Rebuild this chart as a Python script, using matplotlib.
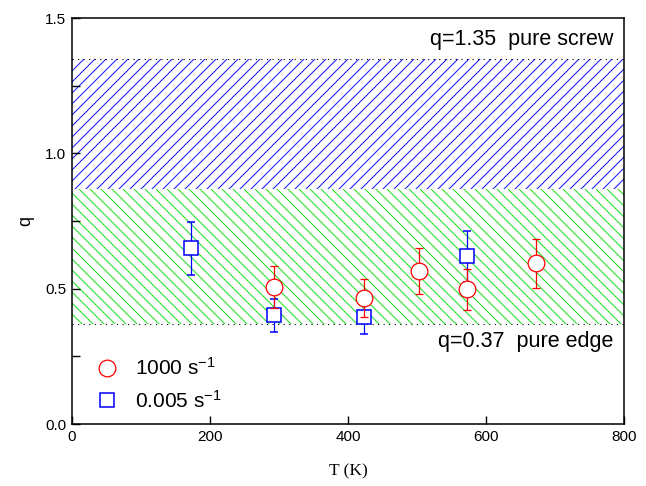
import matplotlib
matplotlib.use("Agg")
import matplotlib.pyplot as plt
from matplotlib.ticker import MultipleLocator, FormatStrFormatter
from matplotlib.lines import Line2D

DPI = 132
f = 100.0 / DPI  # sizes below are expressed as "points at 100 dpi"

# Data
T_fast = [293, 423, 503, 573, 673]
q_fast = [0.507, 0.467, 0.565, 0.497, 0.594]
e_fast = [0.078, 0.070, 0.085, 0.075, 0.090]

T_slow = [173, 293, 423, 573]
q_slow = [0.649, 0.401, 0.394, 0.619]
e_slow = [0.098, 0.060, 0.060, 0.093]

q_screw = 1.35
q_mid = 0.868
q_edge = 0.37

labels = ['1000 s$^{-1}$', '0.005 s$^{-1}$']

plt.rcParams['font.family'] = ['Liberation Sans', 'DejaVu Sans']
plt.rcParams['mathtext.default'] = 'regular'
plt.rcParams['hatch.linewidth'] = 0.75 * f

fig = plt.figure(figsize=(646 / DPI, 486 / DPI), dpi=DPI)
ax = fig.add_axes([72 / 646, 1 - 424 / 486, (624 - 72) / 646, (424 - 18) / 486])

ax.fill_between([0, 800], q_mid, q_screw, facecolor='none', edgecolor='#1a1aff',
                hatch='////', linewidth=0, zorder=1)
ax.fill_between([0, 800], q_edge, q_mid, facecolor='none', edgecolor='#22dd22',
                hatch='\\\\\\\\', linewidth=0, zorder=1)
ax.axhline(q_screw, color='black', linestyle=(0, (1, 4)), linewidth=0.8 * f, zorder=2)
ax.axhline(q_edge, color='black', linestyle=(0, (1, 4)), linewidth=0.8 * f, zorder=2)

ms_c, ms_s = 12 * f, 9.8 * f
ax.errorbar(T_fast, q_fast, yerr=e_fast, fmt='o', color='red', mfc='white', mec='red',
            ms=ms_c, mew=0.9 * f, elinewidth=0.9 * f, capsize=3.1 * f, capthick=0.9 * f,
            zorder=4)
ax.errorbar(T_slow, q_slow, yerr=e_slow, fmt='s', color='blue', mfc='white', mec='blue',
            ms=ms_s, mew=1.1 * f, elinewidth=0.9 * f, capsize=3.1 * f, capthick=0.9 * f,
            zorder=3)

ax.text(784, 1.42, 'q=1.35  pure screw', ha='right', va='center', fontsize=15.5 * f)
ax.text(784, 0.303, 'q=0.37  pure edge', ha='right', va='center', fontsize=15.5 * f)

ax.set_xlim(0, 800)
ax.set_ylim(0, 1.5)
ax.xaxis.set_major_locator(MultipleLocator(200))
ax.yaxis.set_major_locator(MultipleLocator(0.5))
ax.yaxis.set_minor_locator(MultipleLocator(0.25))
ax.yaxis.set_major_formatter(FormatStrFormatter('%.1f'))
ax.tick_params(which='both', direction='in', top=False, right=False,
               labelsize=11 * f, width=1.0 * f, pad=4 * f)
ax.tick_params(which='major', length=6 * f)
ax.tick_params(which='minor', length=6 * f)
for s in ax.spines.values():
    s.set_linewidth(1.1 * f)

ax.set_xlabel('T (K)', family=['Liberation Serif'], fontsize=12.5 * f, labelpad=14 * f)
ax.set_ylabel('q', fontsize=13 * f, labelpad=8 * f)

handles = [Line2D([], [], marker='o', linestyle='none', color='red', mfc='white',
                  mec='red', ms=ms_c, mew=0.9 * f),
           Line2D([], [], marker='s', linestyle='none', color='blue', mfc='white',
                  mec='blue', ms=ms_s, mew=1.1 * f)]
ax.legend(handles, labels, loc='lower left', bbox_to_anchor=(0.02, 0.01), frameon=False,
          fontsize=15 * f, handletextpad=0.6, labelspacing=0.5, borderaxespad=0,
          handlelength=1.5)

fig.savefig('out.png', dpi=DPI)
